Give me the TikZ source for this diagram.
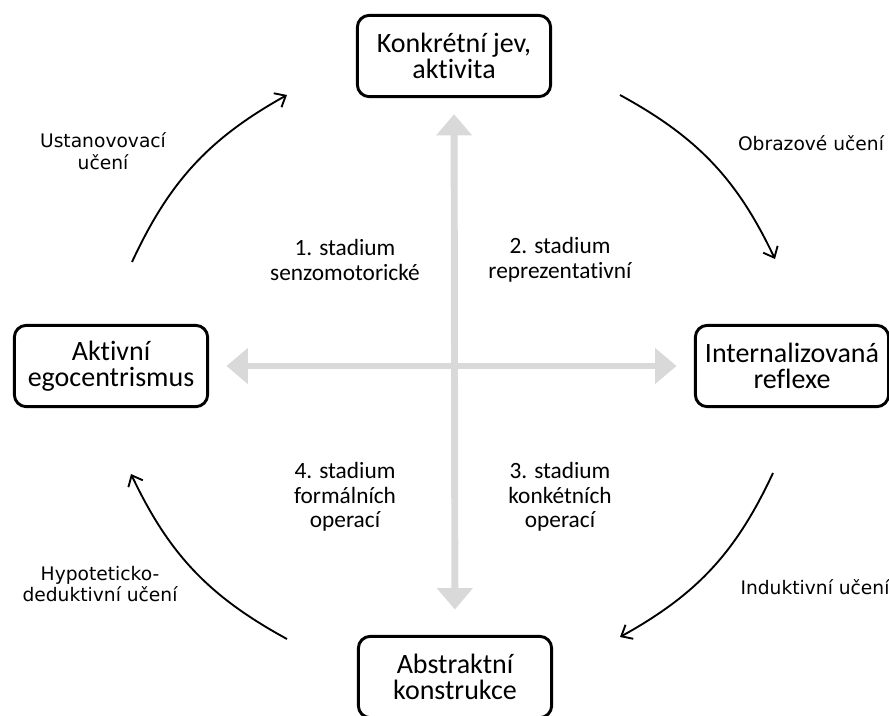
\documentclass[tikz,border=0pt]{standalone}
\usepackage{fontspec}
\setmainfont{Carlito}[Ligatures=NoCommon]
\newfontfamily\labelfont{DejaVu Sans}
\usetikzlibrary{arrows.meta, positioning}

\begin{document}
\begin{tikzpicture}[
    x=0.75pt, y=-0.75pt,
    box/.style={rectangle, rounded corners=9pt, draw, line width=2.2pt, minimum width=145pt, minimum height=61pt, align=center, font=\fontsize{21}{19.5}\selectfont},
    stage/.style={align=center, font=\fontsize{17.5}{18.5}\selectfont},
    lbl/.style={align=center, font=\labelfont\fontsize{14}{16}\selectfont},
    axis/.style={{Triangle[length=16pt, width=26pt]}-{Triangle[length=16pt, width=26pt]}, line width=5.2pt, black!15},
    cycle/.style={-{Straight Barb[length=7pt, width=12pt]}, line width=1.4pt}
]
\useasboundingbox (0,0) rectangle (889,715);

% the four boxes
\node[box] (top) at (454,56) {Konkrétní jev,\\aktivita};
\node[box] (left) at (111,366) {Aktivní\\egocentrismus};
\node[box] (right) at (792,366) {Internalizovaná\\reflexe};
\node[box] (bot) at (455,677) {Abstraktní\\konstrukce};

% grey axes
\draw[axis, shorten <=12pt, shorten >=19pt] (top) -- (bot);
\draw[axis, shorten <=13pt, shorten >=13pt] (left) -- (right);

% stages
\node[stage] (s1) at (345,260) {1. stadium\\senzomotorické};
\node[stage] (s2) at (560,260) {2. stadium\\reprezentativní};
\node[stage] (s3) at (560,497) {3. stadium\\konkétních\\operací};
\node[stage] (s4) at (345,497) {4. stadium\\formálních\\operací};

% cycle arrows
\coordinate (a1) at (132,262);
\coordinate (b1) at (287,95);
\coordinate (a2) at (620,95);
\coordinate (b2) at (775,259);
\coordinate (a3) at (773,473);
\coordinate (b3) at (620,637);
\coordinate (a4) at (287,639);
\coordinate (b4) at (131,474);
\draw[cycle] (a1) to[bend left=18] (b1);
\draw[cycle] (a2) to[bend left=18] (b2);
\draw[cycle] (a3) to[bend left=18] (b3);
\draw[cycle] (a4) to[bend left=18] (b4);

\node[lbl] (l1) at (103,151) {Ustanovovací\\učení};
\node[lbl] (l2) at (811,143) {Obrazové učení};
\node[lbl] (l3) at (815,587) {Induktivní učení};
\node[lbl] (l4) at (100,584) {Hypoteticko-\\deduktivní učení};
\end{tikzpicture}
\end{document}
